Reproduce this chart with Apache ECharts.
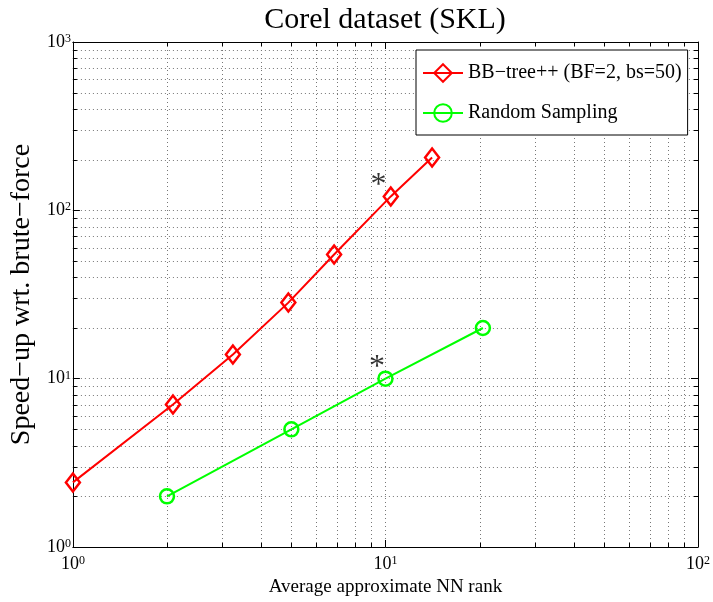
<!DOCTYPE html>
<html><head><meta charset="utf-8">
<script src="https://cdn.jsdelivr.net/npm/echarts@6/dist/echarts.min.js"></script>
<style>html,body{margin:0;padding:0;background:#fff}#c{width:713px;height:602px}</style>
</head><body><div id="c"></div>
<script>
const seriesNames = ['BB\u2212tree++ (BF=2, bs=50)', 'Random Sampling'];
const bbX = [1, 2.09, 3.25, 4.89, 6.85, 10.4, 14.1];
const bbY = [2.42, 7.03, 13.9, 28.3, 54.7, 121, 206];
const rsX = [2, 5, 10, 20.5];
const rsY = [2, 5, 10, 20];
const starX = [9.5, 9.4];
const starY = [157, 13];
const xMinor = [2,3,4,5,6,7,8,9,20,30,40,50,60,70,80,90];
const yMinor = [2,3,4,5,6,7,8,9,20,30,40,50,60,70,80,90,200,300,400,500,600,700,800,900];
const X_MIN = 1, X_MAX = 100, Y_MIN = 1, Y_MAX = 1000;

const FONT = 'Liberation Serif';
const chart = echarts.init(document.getElementById('c'));

function px(v){ return Math.round(v) + 0.5; }

function minorXItem(params, api){
  const v = api.value(0);
  const p0 = api.coord([v, Y_MIN]);
  const p1 = api.coord([v, Y_MAX]);
  const x = px(p0[0]);
  return {type:'group', children:[
    {type:'line', shape:{x1:x, y1:p0[1], x2:x, y2:p1[1]}, style:{stroke:'#777', lineWidth:1, lineDash:[1,3]}},
    {type:'line', shape:{x1:x, y1:p0[1], x2:x, y2:p0[1]-4}, style:{stroke:'#000', lineWidth:1}},
    {type:'line', shape:{x1:x, y1:p1[1], x2:x, y2:p1[1]+4}, style:{stroke:'#000', lineWidth:1}}
  ]};
}
function minorYItem(params, api){
  const v = api.value(1);
  const p0 = api.coord([X_MIN, v]);
  const p1 = api.coord([X_MAX, v]);
  const y = px(p0[1]);
  return {type:'group', children:[
    {type:'line', shape:{x1:p0[0], y1:y, x2:p1[0], y2:y}, style:{stroke:'#777', lineWidth:1, lineDash:[1,3]}},
    {type:'line', shape:{x1:p0[0], y1:y, x2:p0[0]+4, y2:y}, style:{stroke:'#000', lineWidth:1}},
    {type:'line', shape:{x1:p1[0], y1:y, x2:p1[0]-4, y2:y}, style:{stroke:'#000', lineWidth:1}}
  ]};
}

const labelRich = {
  b:{fontSize:18, fontFamily:FONT, color:'#000'},
  s:{fontSize:12, fontFamily:FONT, color:'#000', verticalAlign:'top'}
};
const fmt = v => '{b|10}{s|' + Math.round(Math.log10(v)) + '}';

const baseAxis = {
  type:'log', logBase:10,
  axisLine:{show:true, lineStyle:{color:'#000', width:1}},
  axisTick:{show:true, inside:true, length:7, lineStyle:{color:'#000'}},
  minorTick:{show:false}
};

chart.setOption({
  animation:false,
  backgroundColor:'#fff',
  title:{text:'Corel dataset (SKL)', left:380, top:0, textAlign:'center',
    textStyle:{fontFamily:FONT, fontSize:30, fontWeight:'normal', color:'#000'}},
  grid:{left:69, right:14, top:42, bottom:55, containLabel:false},
  legend:{
    data: seriesNames, orient:'vertical', left:416, top:50,
    backgroundColor:'#fff', borderColor:'#000', borderWidth:1,
    padding:[13,6,12,6], itemWidth:40, itemHeight:22, itemGap:20,
    textStyle:{fontFamily:FONT, fontSize:20, color:'#000'}
  },
  xAxis:[
    Object.assign({}, baseAxis, {min:X_MIN, max:X_MAX, position:'bottom',
      name:'Average approximate NN rank', nameLocation:'middle', nameGap:30,
      nameTextStyle:{fontFamily:FONT, fontSize:19, color:'#000'},
      axisLabel:{formatter:fmt, rich:labelRich, margin:8},
      splitLine:{show:true, lineStyle:{color:'#777', type:[1,3], width:1}}}),
    Object.assign({}, baseAxis, {min:X_MIN, max:X_MAX, position:'top',
      axisLabel:{show:false}, splitLine:{show:false}})
  ],
  yAxis:[
    Object.assign({}, baseAxis, {min:Y_MIN, max:Y_MAX, position:'left',
      name:'Speed\u2212up wrt. brute\u2212force', nameLocation:'middle', nameGap:36,
      nameTextStyle:{fontFamily:FONT, fontSize:28, color:'#000'},
      axisLabel:{formatter:fmt, rich:labelRich, margin:2},
      splitLine:{show:true, lineStyle:{color:'#777', type:[1,3], width:1}}}),
    Object.assign({}, baseAxis, {min:Y_MIN, max:Y_MAX, position:'right',
      axisLabel:{show:false}, splitLine:{show:false}})
  ],
  series:[
    {type:'custom', xAxisIndex:0, yAxisIndex:0, silent:true, clip:false, z:1,
      renderItem:minorXItem, data: xMinor.map(v => [v, Y_MIN])},
    {type:'custom', xAxisIndex:0, yAxisIndex:0, silent:true, clip:false, z:1,
      renderItem:minorYItem, data: yMinor.map(v => [X_MIN, v])},
    {name:seriesNames[0], type:'line', xAxisIndex:0, yAxisIndex:0, clip:false, z:5,
      data: bbX.map((x,i) => [x, bbY[i]]),
      symbol:'diamond', symbolSize:[14,18], showSymbol:true,
      lineStyle:{color:'#ff0000', width:2},
      itemStyle:{color:'rgba(255,255,255,0)', borderColor:'#ff0000', borderWidth:2.5}},
    {name:seriesNames[1], type:'line', xAxisIndex:0, yAxisIndex:0, clip:false, z:5,
      data: rsX.map((x,i) => [x, rsY[i]]),
      symbol:'circle', symbolSize:14, showSymbol:true,
      lineStyle:{color:'#00ff00', width:2},
      itemStyle:{color:'rgba(255,255,255,0)', borderColor:'#00ff00', borderWidth:2.5}},
    {type:'scatter', xAxisIndex:0, yAxisIndex:0, silent:true, z:6,
      data: starX.map((x,i) => [x, starY[i]]),
      symbolSize:1, itemStyle:{color:'rgba(0,0,0,0)'},
      label:{show:true, position:'inside', formatter:'*', fontFamily:FONT, fontSize:32, color:'#000', offset:[0,8]}}
  ]
});
</script></body></html>
